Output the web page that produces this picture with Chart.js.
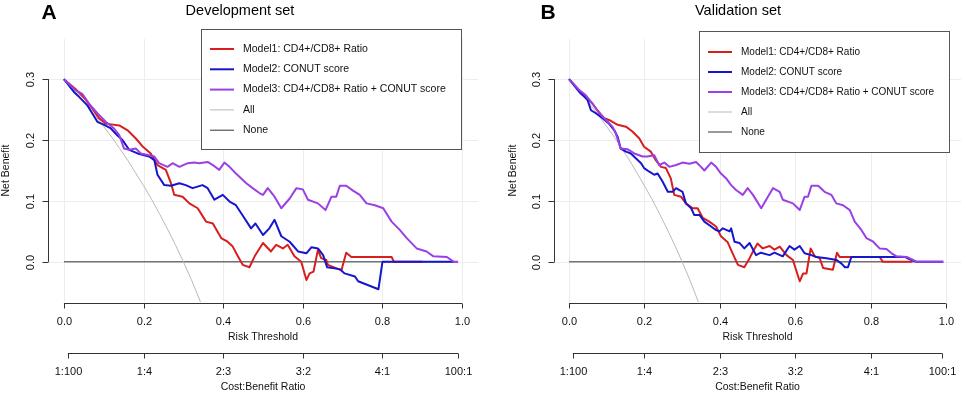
<!DOCTYPE html>
<html>
<head>
<meta charset="utf-8">
<script src="https://cdn.jsdelivr.net/npm/chart.js@4.4.0/dist/chart.umd.min.js"></script>
<style>
  html, body { margin: 0; padding: 0; background: #fff; }
  #wrap { position: relative; width: 966px; height: 402px; }
  canvas { position: absolute; top: 0; }
</style>
</head>
<body>
<div id="wrap">
  <canvas id="dev" width="483" height="402" style="left:0"></canvas>
  <canvas id="val" width="483" height="402" style="left:483px"></canvas>
</div>
<script>
// axis ticks and labels
const riskTicks = [0, 0.2, 0.4, 0.6, 0.8, 1.0];
const riskLabels = ['0.0', '0.2', '0.4', '0.6', '0.8', '1.0'];
const costTicks = [0.0099, 0.2, 0.4, 0.6, 0.8, 0.9901];
const costLabels = ['1:100', '1:4', '2:3', '3:2', '4:1', '100:1'];
const nbTicks = [0, 0.1, 0.2, 0.3];
const nbLabels = ['0.0', '0.1', '0.2', '0.3'];
const seriesNames = ['Model1: CD4+/CD8+ Ratio', 'Model2: CONUT score',
  'Model3: CD4+/CD8+ Ratio + CONUT score', 'All', 'None'];

// [threshold, net benefit]
const treatAll = [[0,0.300],[0.02,0.286],[0.04,0.271],[0.06,0.255],[0.08,0.239],[0.10,0.222],
  [0.12,0.205],[0.14,0.186],[0.16,0.167],[0.18,0.146],[0.20,0.125],[0.22,0.103],[0.24,0.079],
  [0.26,0.054],[0.28,0.028],[0.30,0.000],[0.32,-0.029],[0.34,-0.061],[0.36,-0.094]];
const treatNone = [[0,0],[0.99,0]];

const devModel1 = [[0,0.300],[0.029,0.284],[0.055,0.266],[0.071,0.252],[0.088,0.236],[0.105,0.227],
  [0.139,0.224],[0.16,0.216],[0.18,0.203],[0.197,0.190],[0.218,0.178],[0.235,0.159],[0.256,0.151],
  [0.269,0.129],[0.277,0.110],[0.298,0.107],[0.315,0.096],[0.336,0.088],[0.357,0.066],[0.374,0.063],
  [0.395,0.039],[0.411,0.033],[0.424,0.025],[0.437,0.009],[0.449,-0.005],[0.466,-0.009],[0.479,0.009],
  [0.5,0.031],[0.52,0.017],[0.533,0.028],[0.55,0.022],[0.562,0.028],[0.579,0.009],[0.596,0.0],
  [0.609,-0.030],[0.617,-0.019],[0.627,-0.016],[0.638,0.020],[0.646,0.006],[0.659,0.003],[0.663,-0.005],
  [0.697,-0.014],[0.709,0.015],[0.722,0.008],[0.823,0.008],[0.829,0.0],[0.9,0.0]];
const devModel2 = [[0,0.300],[0.025,0.279],[0.038,0.271],[0.059,0.257],[0.071,0.244],[0.084,0.230],
  [0.101,0.225],[0.118,0.219],[0.134,0.208],[0.147,0.200],[0.164,0.184],[0.185,0.178],[0.214,0.173],
  [0.227,0.167],[0.235,0.143],[0.252,0.126],[0.269,0.125],[0.29,0.129],[0.306,0.126],[0.323,0.121],
  [0.348,0.126],[0.361,0.121],[0.378,0.102],[0.399,0.110],[0.416,0.099],[0.432,0.093],[0.449,0.076],
  [0.47,0.055],[0.481,0.063],[0.5,0.044],[0.516,0.055],[0.529,0.069],[0.546,0.042],[0.567,0.033],
  [0.588,0.017],[0.609,0.014],[0.622,0.024],[0.638,0.022],[0.651,0.011],[0.661,-0.009],[0.693,-0.012],
  [0.705,-0.019],[0.731,-0.024],[0.739,-0.032],[0.79,-0.045],[0.8,0.0],[0.98,0.0]];
const devModel3 = [[0,0.300],[0.029,0.282],[0.046,0.276],[0.063,0.260],[0.084,0.244],[0.105,0.230],
  [0.126,0.219],[0.139,0.208],[0.151,0.186],[0.164,0.184],[0.181,0.186],[0.193,0.178],[0.214,0.175],
  [0.227,0.173],[0.239,0.162],[0.26,0.156],[0.273,0.162],[0.29,0.156],[0.311,0.162],[0.327,0.163],
  [0.34,0.162],[0.361,0.164],[0.374,0.159],[0.39,0.151],[0.403,0.163],[0.416,0.156],[0.432,0.145],
  [0.458,0.129],[0.474,0.121],[0.491,0.113],[0.5,0.110],[0.512,0.121],[0.529,0.107],[0.546,0.088],
  [0.567,0.104],[0.584,0.121],[0.6,0.119],[0.613,0.102],[0.638,0.096],[0.657,0.085],[0.672,0.107],
  [0.684,0.107],[0.693,0.125],[0.709,0.125],[0.726,0.117],[0.743,0.110],[0.76,0.096],[0.781,0.093],
  [0.802,0.088],[0.823,0.066],[0.844,0.052],[0.861,0.039],[0.886,0.022],[0.911,0.017],[0.928,0.009],
  [0.962,0.008],[0.979,0.0],[0.99,0.0]];

const valModel1 = [[0,0.300],[0.027,0.282],[0.044,0.271],[0.062,0.260],[0.075,0.249],[0.093,0.236],
  [0.106,0.233],[0.129,0.225],[0.151,0.222],[0.168,0.214],[0.186,0.203],[0.199,0.189],[0.217,0.181],
  [0.23,0.167],[0.244,0.156],[0.257,0.154],[0.27,0.137],[0.279,0.110],[0.297,0.107],[0.31,0.096],
  [0.328,0.088],[0.341,0.088],[0.355,0.072],[0.372,0.066],[0.39,0.058],[0.403,0.042],[0.421,0.032],
  [0.434,0.014],[0.448,-0.005],[0.465,-0.009],[0.479,0.006],[0.488,0.017],[0.5,0.030],[0.514,0.022],
  [0.532,0.026],[0.545,0.020],[0.559,0.025],[0.577,0.011],[0.594,0.003],[0.612,-0.032],[0.621,-0.019],
  [0.63,-0.019],[0.641,0.022],[0.652,0.009],[0.665,0.006],[0.674,-0.010],[0.7,-0.013],[0.711,0.015],
  [0.718,0.008],[0.824,0.008],[0.833,0.0],[0.91,0.0]];
const valModel2 = [[0,0.300],[0.027,0.279],[0.049,0.266],[0.058,0.249],[0.071,0.244],[0.089,0.236],
  [0.106,0.227],[0.12,0.216],[0.129,0.205],[0.137,0.186],[0.151,0.181],[0.164,0.178],[0.177,0.170],
  [0.191,0.162],[0.199,0.154],[0.213,0.148],[0.226,0.143],[0.235,0.145],[0.248,0.132],[0.262,0.115],
  [0.275,0.115],[0.284,0.121],[0.301,0.115],[0.31,0.096],[0.324,0.088],[0.332,0.077],[0.346,0.077],
  [0.359,0.066],[0.377,0.058],[0.39,0.052],[0.399,0.050],[0.408,0.055],[0.426,0.050],[0.43,0.055],
  [0.439,0.033],[0.452,0.031],[0.465,0.022],[0.479,0.031],[0.496,0.011],[0.509,0.015],[0.532,0.011],
  [0.545,0.015],[0.567,0.009],[0.585,0.026],[0.598,0.020],[0.612,0.026],[0.625,0.014],[0.643,0.011],
  [0.656,0.008],[0.683,0.006],[0.71,0.003],[0.723,-0.003],[0.732,-0.009],[0.74,-0.009],[0.749,0.008],
  [0.891,0.008],[0.904,0.004],[0.922,0.0],[0.993,0.0]];
const valModel3 = [[0,0.300],[0.027,0.282],[0.044,0.274],[0.062,0.260],[0.08,0.244],[0.098,0.233],
  [0.115,0.222],[0.124,0.211],[0.137,0.186],[0.155,0.185],[0.173,0.178],[0.195,0.173],[0.208,0.173],
  [0.226,0.175],[0.239,0.159],[0.253,0.163],[0.266,0.156],[0.284,0.159],[0.301,0.163],[0.319,0.161],
  [0.337,0.164],[0.35,0.156],[0.359,0.150],[0.377,0.163],[0.39,0.156],[0.403,0.145],[0.417,0.137],
  [0.43,0.126],[0.443,0.118],[0.461,0.110],[0.474,0.121],[0.488,0.110],[0.51,0.088],[0.523,0.102],
  [0.541,0.121],[0.559,0.115],[0.567,0.102],[0.594,0.096],[0.612,0.085],[0.625,0.107],[0.634,0.107],
  [0.643,0.125],[0.661,0.125],[0.678,0.115],[0.696,0.110],[0.709,0.096],[0.727,0.093],[0.745,0.085],
  [0.758,0.066],[0.776,0.052],[0.789,0.039],[0.807,0.033],[0.824,0.022],[0.842,0.021],[0.856,0.014],
  [0.869,0.009],[0.896,0.008],[0.913,0.003],[0.922,0.0],[0.993,0.0]];

const FONT = '"Liberation Sans", Arial, Helvetica, sans-serif';
const colors = ['#d81e1e', '#1616cc', '#9a40e4', '#b9b9b9', '#333333'];
const widths = [2, 2, 2, 1, 1];

function crisp(v) { return Math.round(v) + 0.5; }

function line(ctx, x1, y1, x2, y2) {
  ctx.beginPath();
  ctx.moveTo(x1, y1);
  ctx.lineTo(x2, y2);
  ctx.stroke();
}

// draws grid, base-R style axes, titles and the boxed legend
const rPanel = {
  id: 'rPanel',
  beforeDatasetsDraw(chart, args, o) {
    const { ctx, chartArea: a, scales: { x, y } } = chart;
    ctx.save();
    ctx.strokeStyle = '#ededed';
    ctx.lineWidth = 1;
    riskTicks.forEach(v => { const px = crisp(x.getPixelForValue(v)); line(ctx, px, a.top, px, a.bottom); });
    nbTicks.forEach(v => { const py = crisp(y.getPixelForValue(v)); line(ctx, a.left, py, a.right, py); });
    ctx.restore();
  },
  afterDraw(chart, args, o) {
    const { ctx, chartArea: a, scales: { x, y } } = chart;
    ctx.save();
    ctx.strokeStyle = '#333';
    ctx.fillStyle = '#111';
    ctx.lineWidth = 1;

    // y axis
    const sx = crisp(a.left);
    line(ctx, sx, y.getPixelForValue(0), sx, y.getPixelForValue(0.3));
    ctx.font = '11px ' + FONT;
    ctx.textAlign = 'center';
    ctx.textBaseline = 'middle';
    nbTicks.forEach((v, i) => {
      const py = crisp(y.getPixelForValue(v));
      line(ctx, sx - 6, py, sx, py);
      ctx.save();
      ctx.translate(a.left - 17, py);
      ctx.rotate(-Math.PI / 2);
      ctx.fillText(nbLabels[i], 0, 0);
      ctx.restore();
    });
    ctx.font = '10.5px ' + FONT;
    ctx.save();
    ctx.translate(a.left - o.ylabOff, (y.getPixelForValue(0) + y.getPixelForValue(0.3)) / 2);
    ctx.rotate(-Math.PI / 2);
    ctx.fillText('Net Benefit', 0, 0);
    ctx.restore();

    // risk threshold axis
    const ax1 = crisp(a.bottom + 1);
    line(ctx, x.getPixelForValue(0), ax1, x.getPixelForValue(1), ax1);
    ctx.font = '11px ' + FONT;
    riskTicks.forEach((v, i) => {
      const px = crisp(x.getPixelForValue(v));
      line(ctx, px, ax1, px, ax1 + 5);
      ctx.fillText(riskLabels[i], px, ax1 + 18);
    });
    ctx.font = '10.5px ' + FONT;
    ctx.fillText('Risk Threshold', x.getPixelForValue(0.5), ax1 + 34);

    // cost:benefit axis
    const ax2 = ax1 + 50;
    line(ctx, x.getPixelForValue(costTicks[0]), ax2, x.getPixelForValue(costTicks[5]), ax2);
    ctx.font = '11px ' + FONT;
    costTicks.forEach((v, i) => {
      const px = crisp(x.getPixelForValue(v));
      line(ctx, px, ax2, px, ax2 + 5);
      ctx.fillText(costLabels[i], px, ax2 + 18);
    });
    ctx.font = '10.5px ' + FONT;
    ctx.fillText('Cost:Benefit Ratio', x.getPixelForValue(0.5), ax2 + 34);

    // titles
    ctx.fillStyle = '#000';
    ctx.font = '14.5px ' + FONT;
    ctx.fillText(o.title, o.titleX, 11);
    ctx.font = 'bold 21px ' + FONT;
    ctx.fillText(o.letter, o.letterX, 13);

    // legend
    const L = o.legend;
    ctx.fillStyle = '#fff';
    ctx.fillRect(L.x, L.y, L.w, L.h);
    ctx.strokeStyle = '#555';
    ctx.strokeRect(crisp(L.x), crisp(L.y), L.w, L.h);
    ctx.font = L.font + 'px ' + FONT;
    ctx.textAlign = 'left';
    ctx.fillStyle = '#111';
    seriesNames.forEach((name, i) => {
      const ly = L.y + L.first + i * L.step;
      ctx.strokeStyle = colors[i];
      ctx.lineWidth = widths[i];
      line(ctx, L.x + 9, ly, L.x + 33, ly);
      ctx.fillText(name, L.x + 42, ly);
    });
    ctx.restore();
  }
};

function toXY(arr) { return arr.map(p => ({ x: p[0], y: p[1] })); }

function makePanel(id, m1, m2, m3, panel, pad) {
  const series = [m1, m2, m3, treatAll, treatNone];
  const order = [3, 2, 1, 4, 5];
  return new Chart(document.getElementById(id), {
    type: 'line',
    data: {
      datasets: series.map((s, i) => ({
        label: seriesNames[i],
        data: toXY(s),
        borderColor: colors[i],
        borderWidth: widths[i],
        pointRadius: 0,
        tension: 0,
        fill: false,
        borderJoinStyle: 'round',
        order: order[i]
      }))
    },
    options: {
      responsive: false,
      animation: false,
      devicePixelRatio: 1,
      layout: { padding: pad },
      scales: {
        x: { type: 'linear', display: false, min: -0.04, max: 1.04 },
        y: { type: 'linear', display: false, min: -0.066, max: 0.366 }
      },
      plugins: {
        legend: { display: false },
        tooltip: { enabled: false },
        rPanel: panel
      }
    },
    plugins: [rPanel]
  });
}

makePanel('dev', devModel1, devModel2, devModel3, {
  title: 'Development set', titleX: 240, letter: 'A', letterX: 49, ylabOff: 42,
  legend: { x: 201, y: 29, w: 260, h: 120, first: 20, step: 20.3, font: 10.5 }
}, { left: 48, right: 5, top: 39, bottom: 100 });

makePanel('val', valModel1, valModel2, valModel3, {
  title: 'Validation set', titleX: 255, letter: 'B', letterX: 65, ylabOff: 41,
  legend: { x: 216, y: 31, w: 250, h: 121, first: 21, step: 20, font: 10 }
}, { left: 71, right: 5, top: 39, bottom: 100 });
</script>
</body>
</html>
